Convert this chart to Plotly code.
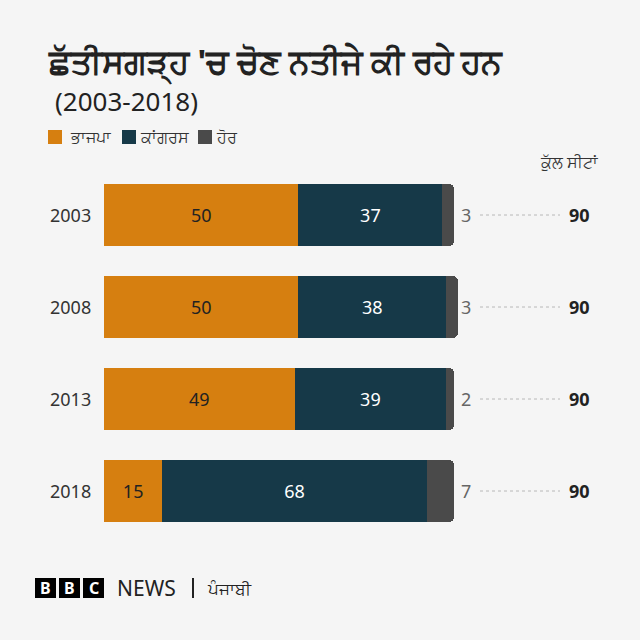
import plotly.graph_objects as go

# ---- data ----
years = ["2003", "2008", "2013", "2018"]
bjp = [50, 50, 49, 15]
congress = [37, 38, 39, 68]
others = [3, 3, 2, 7]
totals = [90, 90, 90, 90]
party_names = ["ਭਾਜਪਾ", "ਕਾਂਗਰਸ", "ਹੋਰ"]
title_text = "ਛੱਤੀਸਗੜ੍ਹ 'ਚ ਚੋਣ ਨਤੀਜੇ ਕੀ ਰਹੇ ਹਨ"
subtitle_text = "(2003-2018)"
total_header = "ਕੁੱਲ ਸੀਟਾਂ"

# ---- style ----
W = H = 640
BG = "#f5f5f5"
C_BJP = "#d67f10"
C_INC = "#163948"
C_OTH = "#4a4a4a"
FONT = "Noto Sans, Lato, sans-serif"

X0_PX, X90_PX = 104, 454          # pixel positions of 0 and 90 seats
K = (X90_PX - X0_PX) / 90.0       # px per seat
Y0_PX, DY_PX, BAR_PX = 215, 92, 62


def px_to_x(px):
    return (px - X0_PX) / K


def py_to_y(py):
    return (py - Y0_PX) / DY_PX


def pxp(px):
    return px / W


def pyp(py):
    return 1 - py / H


yidx = list(range(len(years)))

fig = go.Figure()
fig.add_trace(go.Bar(y=yidx, x=bjp, orientation="h", marker=dict(color=C_BJP, line=dict(width=0)),
                     text=[str(v) for v in bjp], textposition="inside", insidetextanchor="middle",
                     textangle=0, textfont=dict(color="#222222", size=18, family=FONT), name=party_names[0]))
fig.add_trace(go.Bar(y=yidx, x=congress, orientation="h", marker=dict(color=C_INC, line=dict(width=0)),
                     text=[str(v) for v in congress], textposition="inside", insidetextanchor="middle",
                     textangle=0, textfont=dict(color="#ffffff", size=18, family=FONT), name=party_names[1]))
fig.add_trace(go.Bar(y=yidx, x=others, orientation="h", marker=dict(color=C_OTH, line=dict(width=0),
                     cornerradius=5), name=party_names[2]))

ann = []
shapes = []
for i, yr in enumerate(years):
    ann.append(dict(x=px_to_x(70), y=i, xref="x", yref="y", text=yr, showarrow=False,
                    font=dict(size=18, color="#333333", family=FONT), xanchor="center", yanchor="middle"))
    ann.append(dict(x=px_to_x(466), y=i, xref="x", yref="y", text=str(others[i]), showarrow=False,
                    font=dict(size=18, color="#666666", family=FONT), xanchor="center", yanchor="middle"))
    ann.append(dict(x=px_to_x(579), y=i, xref="x", yref="y", text="<b>%d</b>" % totals[i], showarrow=False,
                    font=dict(size=18, color="#222222", family=FONT), xanchor="center", yanchor="middle"))
    shapes.append(dict(type="line", xref="x", yref="y", x0=px_to_x(480), x1=px_to_x(560), y0=i, y1=i,
                       line=dict(color="#a8a8a8", width=0.8, dash="dot")))

ann.append(dict(x=px_to_x(569), y=py_to_y(162), xref="x", yref="y", text=total_header, showarrow=False,
                font=dict(size=16, color="#333333", family=FONT), xanchor="center", yanchor="middle"))

# title / subtitle
ann.append(dict(x=pxp(46), y=pyp(61), xref="paper", yref="paper", text="<b>%s</b>" % title_text,
                showarrow=False, font=dict(size=33, color="#222222", family=FONT), xanchor="left", yanchor="middle"))
ann.append(dict(x=pxp(53), y=pyp(101), xref="paper", yref="paper", text=subtitle_text,
                showarrow=False, font=dict(size=26, color="#222222", family=FONT), xanchor="left", yanchor="middle"))

# legend
leg = [(48, C_BJP, party_names[0], 68), (122, C_INC, party_names[1], 138), (198, C_OTH, party_names[2], 214)]
for sx, col, name, tx in leg:
    shapes.append(dict(type="rect", xref="paper", yref="paper", x0=pxp(sx), x1=pxp(sx + 14),
                       y0=pyp(144), y1=pyp(130), fillcolor=col, line=dict(width=0)))
    ann.append(dict(x=pxp(tx), y=pyp(137), xref="paper", yref="paper", text=name, showarrow=False,
                    font=dict(size=16, color="#333333", family=FONT), xanchor="left", yanchor="middle"))

# BBC logo
for j, letter in enumerate(["B", "B", "C"]):
    bx = 35 + j * 24
    shapes.append(dict(type="rect", xref="paper", yref="paper", x0=pxp(bx), x1=pxp(bx + 21),
                       y0=pyp(598), y1=pyp(578), fillcolor="#000000", line=dict(width=0)))
    ann.append(dict(x=pxp(bx + 10.5), y=pyp(588), xref="paper", yref="paper", text="<b>%s</b>" % letter,
                    showarrow=False, font=dict(size=16, color="#ffffff", family=FONT),
                    xanchor="center", yanchor="middle"))
ann.append(dict(x=pxp(115), y=pyp(588), xref="paper", yref="paper", text="NEWS", showarrow=False,
                font=dict(size=21, color="#222222", family=FONT), xanchor="left", yanchor="middle"))
shapes.append(dict(type="line", xref="paper", yref="paper", x0=pxp(193), x1=pxp(193), y0=pyp(578), y1=pyp(598),
                   line=dict(color="#222222", width=2)))
ann.append(dict(x=pxp(205), y=pyp(588), xref="paper", yref="paper", text="ਪੰਜਾਬੀ", showarrow=False,
                font=dict(size=17, color="#222222", family=FONT), xanchor="left", yanchor="middle"))

fig.update_layout(
    width=W, height=H,
    margin=dict(l=0, r=0, t=0, b=0),
    paper_bgcolor=BG, plot_bgcolor=BG,
    barmode="stack", bargap=1 - BAR_PX / DY_PX, barcornerradius=5,
    showlegend=False,
    xaxis=dict(range=[px_to_x(0), px_to_x(W)], domain=[0, 1], visible=False, fixedrange=True),
    yaxis=dict(range=[py_to_y(H), py_to_y(0)], domain=[0, 1], visible=False, fixedrange=True),
    annotations=ann, shapes=shapes,
    font=dict(family=FONT),
)

fig.write_html("out.html")
